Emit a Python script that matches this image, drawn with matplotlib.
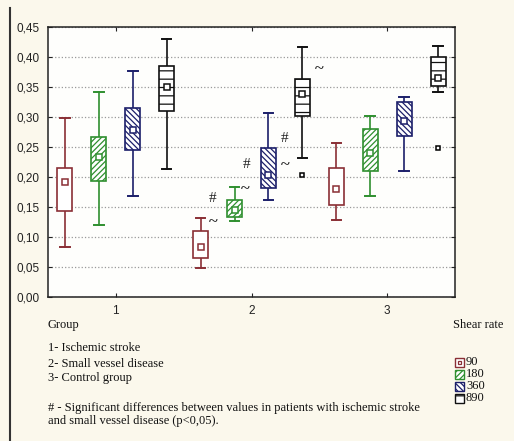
import matplotlib as mp
mp.use("Agg")
import matplotlib.pyplot as plt
from matplotlib.patches import Rectangle
from matplotlib.lines import Line2D
import numpy as np

mp.rcParams["hatch.linewidth"] = 0.9

# groups on the x axis
groups = [1, 2, 3]
shear_rates = ["90", "180", "360", "890"]

# box statistics per shear rate, one value per group
whislo = {"90": [0.083, 0.048, 0.128], "180": [0.120, 0.127, 0.168],
          "360": [0.168, 0.162, 0.210], "890": [0.213, 0.232, 0.342]}
q1 = {"90": [0.143, 0.065, 0.153], "180": [0.194, 0.133, 0.210],
      "360": [0.245, 0.182, 0.268], "890": [0.310, 0.302, 0.352]}
med = {"90": [0.192, 0.083, 0.180], "180": [0.233, 0.145, 0.240],
       "360": [0.278, 0.203, 0.293], "890": [0.350, 0.338, 0.365]}
q3 = {"90": [0.215, 0.110, 0.215], "180": [0.266, 0.162, 0.280],
      "360": [0.315, 0.248, 0.325], "890": [0.385, 0.363, 0.400]}
whishi = {"90": [0.298, 0.132, 0.257], "180": [0.341, 0.183, 0.302],
          "360": [0.377, 0.307, 0.333], "890": [0.430, 0.417, 0.418]}
fliers = {"90": [[], [], []], "180": [[], [], []],
          "360": [[], [], []], "890": [[], [0.203], [0.248]]}

# significance marks (group 2)
sig_text = ["#", "~", "#", "~", "#", "~", "~"]
sig_x = [1.71, 1.72, 1.96, 1.95, 2.24, 2.25, 2.50]
sig_y = [0.165, 0.125, 0.22, 0.18, 0.265, 0.22, 0.38]

colors = {"90": "#8a2f35", "180": "#2f8f2f", "360": "#1c1f6a", "890": "#111111"}
hatches = {"90": None, "180": "//////", "360": "\\\\\\\\\\\\", "890": "--"}
offsets = [-0.375, -0.125, 0.125, 0.375]

fig = plt.figure(figsize=(5.14, 4.41), dpi=100, facecolor="#fbf8ec")
ax = fig.add_axes([48/514, 1-297/441, (455-48)/514, (297-27)/441])
ax.set_facecolor("#fefefc")

for sr, off in zip(shear_rates, offsets):
    c = colors[sr]
    stats = []
    for i in range(len(groups)):
        stats.append(dict(whislo=whislo[sr][i], q1=q1[sr][i], med=med[sr][i],
                          q3=q3[sr][i], whishi=whishi[sr][i],
                          mean=med[sr][i], fliers=fliers[sr][i]))
    pos = [g + off for g in groups]
    bp = ax.bxp(stats, positions=pos, widths=0.11, patch_artist=True,
                showmeans=True, capwidths=0.07,
                boxprops=dict(edgecolor=c, facecolor="white", linewidth=1.2),
                whiskerprops=dict(color=c, linewidth=1.2),
                capprops=dict(color=c, linewidth=1.4),
                medianprops=dict(linewidth=0),
                meanprops=dict(marker="s", markersize=4, markerfacecolor="white",
                               markeredgecolor=c, markeredgewidth=1.1),
                flierprops=dict(marker="s", markersize=3.5, markerfacecolor="white",
                                markeredgecolor="black", markeredgewidth=1.1))
    for b in bp["boxes"]:
        if hatches[sr]:
            b.set_hatch(hatches[sr])
        b.set_zorder(3)
    for m in bp["means"]:
        m.set_zorder(5)

for t, x, y in zip(sig_text, sig_x, sig_y):
    ax.text(x, y, t, fontsize=11 if t == "#" else 12, ha="center", va="center",
            family="Liberation Serif", color="#222222",
            fontweight="normal" if t == "#" else "bold")

ax.set_xlim(0.5, 3.5)
ax.set_ylim(0, 0.45)
ax.set_xticks(groups)
ax.set_xticklabels([str(g) for g in groups])
yt = np.arange(0, 0.451, 0.05)
ax.set_yticks(yt)
ax.set_yticklabels([("%.2f" % v).replace(".", ",") for v in yt])
ax.tick_params(direction="in", length=3, top=True, right=True, labelsize=8.5,
               pad=6, colors="#222222")
for lab in ax.get_xticklabels() + ax.get_yticklabels():
    lab.set_family("Liberation Sans")
ax.grid(axis="y", linestyle=":", color="#9a9a9a", linewidth=0.9)
ax.set_axisbelow(True)
for s in ax.spines.values():
    s.set_linewidth(1.1)
    s.set_color("#222222")

fig.add_artist(Line2D([10/514, 10/514], [0, 1-8/441], color="#333333", linewidth=1.5))

# caption text
tf = dict(family="Liberation Serif", fontsize=9, color="#111111", va="center")
lines = [("Group", 325), ("1- Ischemic stroke", 348), ("2- Small vessel disease", 364),
         ("3- Control group", 378),
         ("# - Significant differences between values in patients with ischemic stroke", 408),
         ("and small vessel disease (p<0,05).", 421)]
for s, y in lines:
    fig.text(48/514, 1-y/441, s, **tf)
fig.text(453/514, 1-325/441, "Shear rate", **tf)
for sr, y in zip(shear_rates, [362, 374, 386, 398]):
    r = Rectangle((455/514, 1-(y+4.5)/441), 9/514, 9/441, transform=fig.transFigure,
                  facecolor="white", edgecolor=colors[sr], linewidth=1.0,
                  hatch=hatches[sr])
    fig.add_artist(r)
    if sr == "90":
        fig.add_artist(Rectangle((458/514, 1-(y+1.5)/441), 3/514, 3/441,
                                 transform=fig.transFigure, facecolor="white",
                                 edgecolor=colors[sr], linewidth=0.9))
    fig.text(466/514, 1-y/441, sr, **tf)

fig.savefig("out.png", dpi=100, facecolor=fig.get_facecolor())
